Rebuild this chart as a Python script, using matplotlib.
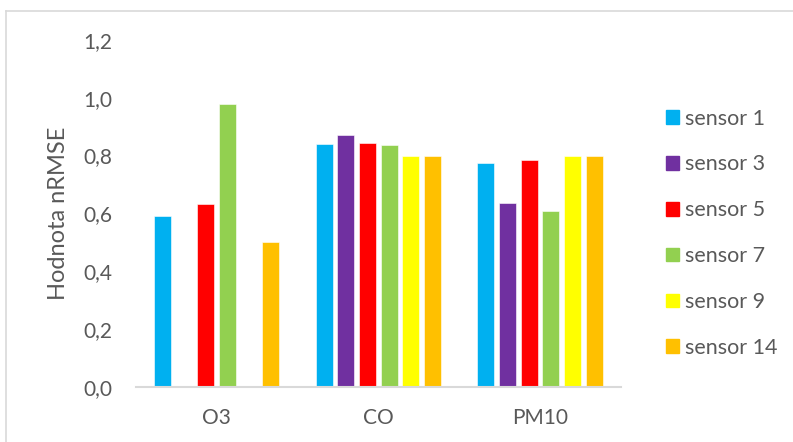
import numpy as np
import matplotlib
matplotlib.use("Agg")
import matplotlib.pyplot as plt
from matplotlib.lines import Line2D
from matplotlib.patches import Patch

plt.rcParams['font.family'] = ['Lato', 'DejaVu Sans']

categories = ["O3", "CO", "PM10"]
series_names = ["sensor 1", "sensor 3", "sensor 5", "sensor 7", "sensor 9", "sensor 14"]
sensor_1 = [0.59, 0.84, 0.775]
sensor_3 = [np.nan, 0.87, 0.637]
sensor_5 = [0.633, 0.845, 0.786]
sensor_7 = [0.98, 0.835, 0.609]
sensor_9 = [np.nan, 0.80, 0.80]
sensor_14 = [0.50, 0.80, 0.80]
series_values = [sensor_1, sensor_3, sensor_5, sensor_7, sensor_9, sensor_14]
colors = ["#00B0F0", "#7030A0", "#FF0000", "#92D050", "#FFFF00", "#FFC000"]
y_ticks = [0.0, 0.2, 0.4, 0.6, 0.8, 1.0, 1.2]

text_color = "#595959"
grid_color = "#D9D9D9"

W, H = 793, 442
fig = plt.figure(figsize=(W / 100, H / 100), dpi=100)
ax = fig.add_axes([135.5 / W, (H - 386.7) / H, (621 - 135.5) / W, (386.7 - 40) / H])

x = np.arange(len(categories))
step = 0.134
width = 0.105
handles = []
for j, (name, vals, c) in enumerate(zip(series_names, series_values, colors)):
    offs = (j - (len(series_names) - 1) / 2) * step
    ax.bar(x + offs, vals, width=width, color=c, edgecolor="white",
           linewidth=0.4, zorder=2)
    handles.append(Patch(facecolor=c, edgecolor=c, label=name))

ax.set_xlim(-0.5, len(categories) - 0.5)
ax.set_ylim(0, 1.2)
ax.set_yticks(y_ticks)
ax.set_yticklabels([f"{v:.1f}".replace(".", ",") for v in y_ticks])
ax.set_xticks(x)
ax.set_xticklabels(categories)

for side in ["top", "right", "left"]:
    ax.spines[side].set_visible(False)
ax.spines["bottom"].set_color(grid_color)
ax.spines["bottom"].set_linewidth(1.5)
ax.tick_params(axis="both", length=0, labelsize=15, colors=text_color)
ax.tick_params(axis="y", pad=17)
ax.tick_params(axis="x", pad=15)
ax.set_ylabel("Hodnota nRMSE", fontsize=17, color=text_color, labelpad=10)

fig.legend(handles=handles, loc="upper left",
           bbox_to_anchor=(657 / W, 1 - 100 / H), frameon=False,
           fontsize=15.5, labelcolor=text_color,
           handlelength=0.6, handleheight=0.6, handletextpad=0.3,
           labelspacing=1.2, borderaxespad=0)

# outer chart frame
fig.add_artist(Line2D([6 / W, 6 / W], [0, 1 - 11 / H], transform=fig.transFigure,
                      color=grid_color, linewidth=1.2))
fig.add_artist(Line2D([6 / W, 1], [1 - 11 / H, 1 - 11 / H], transform=fig.transFigure,
                      color=grid_color, linewidth=1.2))

fig.savefig("out.png", dpi=100, facecolor="white")
